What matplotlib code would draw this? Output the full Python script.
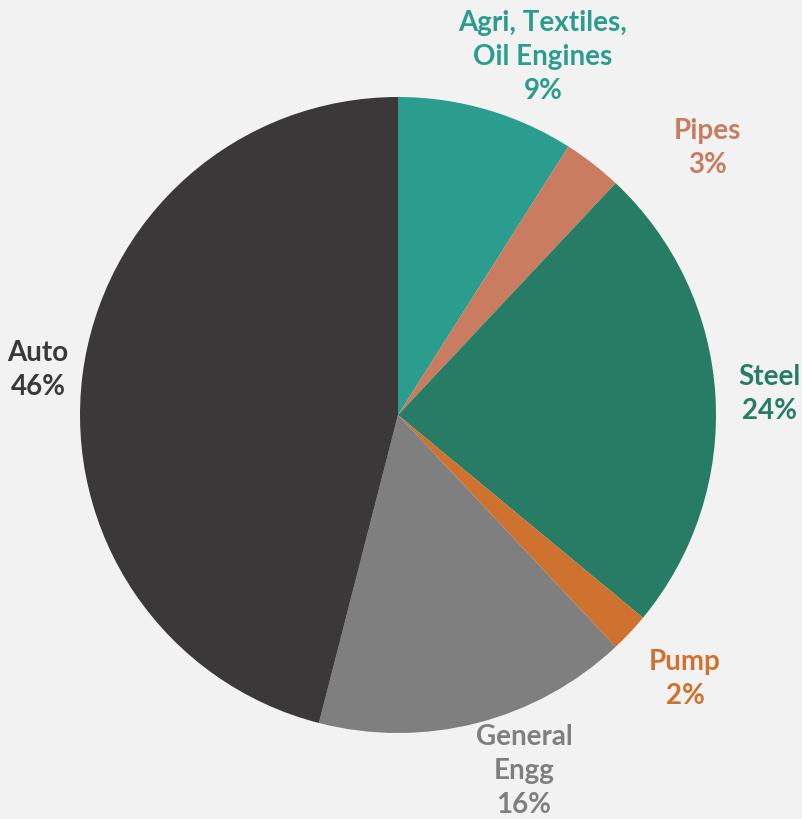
import matplotlib
matplotlib.use("Agg")
import matplotlib.pyplot as plt

categories = ["Agri, Textiles,\nOil Engines", "Pipes", "Steel", "Pump", "General\nEngg", "Auto"]
values = [9, 3, 24, 2, 16, 46]
colors = ["#2A9D8F", "#C97C5F", "#267C65", "#CF712F", "#7F7F7F", "#3A3839"]
label_pos = [(0.456, 1.126), (0.972, 0.840), (1.167, 0.066), (0.903, -0.830), (0.396, -1.119), (-1.132, 0.142)]

fig = plt.figure(figsize=(8.02, 8.19), dpi=100, facecolor="#F2F2F2")
ax = fig.add_axes([0, 0, 1, 1])
ax.set_facecolor("#F2F2F2")
ax.pie(values, colors=colors, startangle=90, counterclock=False, radius=1.0,
       wedgeprops=dict(linewidth=0))
ax.set_xlim(-398 / 318, (802 - 398) / 318)
ax.set_ylim(-(819 - 415) / 318, 415 / 318)
ax.set_aspect("equal")
ax.axis("off")

for cat, v, c, (x, y) in zip(categories, values, colors, label_pos):
    ax.text(x, y, f"{cat}\n{v}%", color=c, ha="center", va="center",
            fontsize=20, fontweight="bold", family=["Lato", "DejaVu Sans"],
            linespacing=1.38)

fig.savefig("out.png", dpi=100, facecolor=fig.get_facecolor())
